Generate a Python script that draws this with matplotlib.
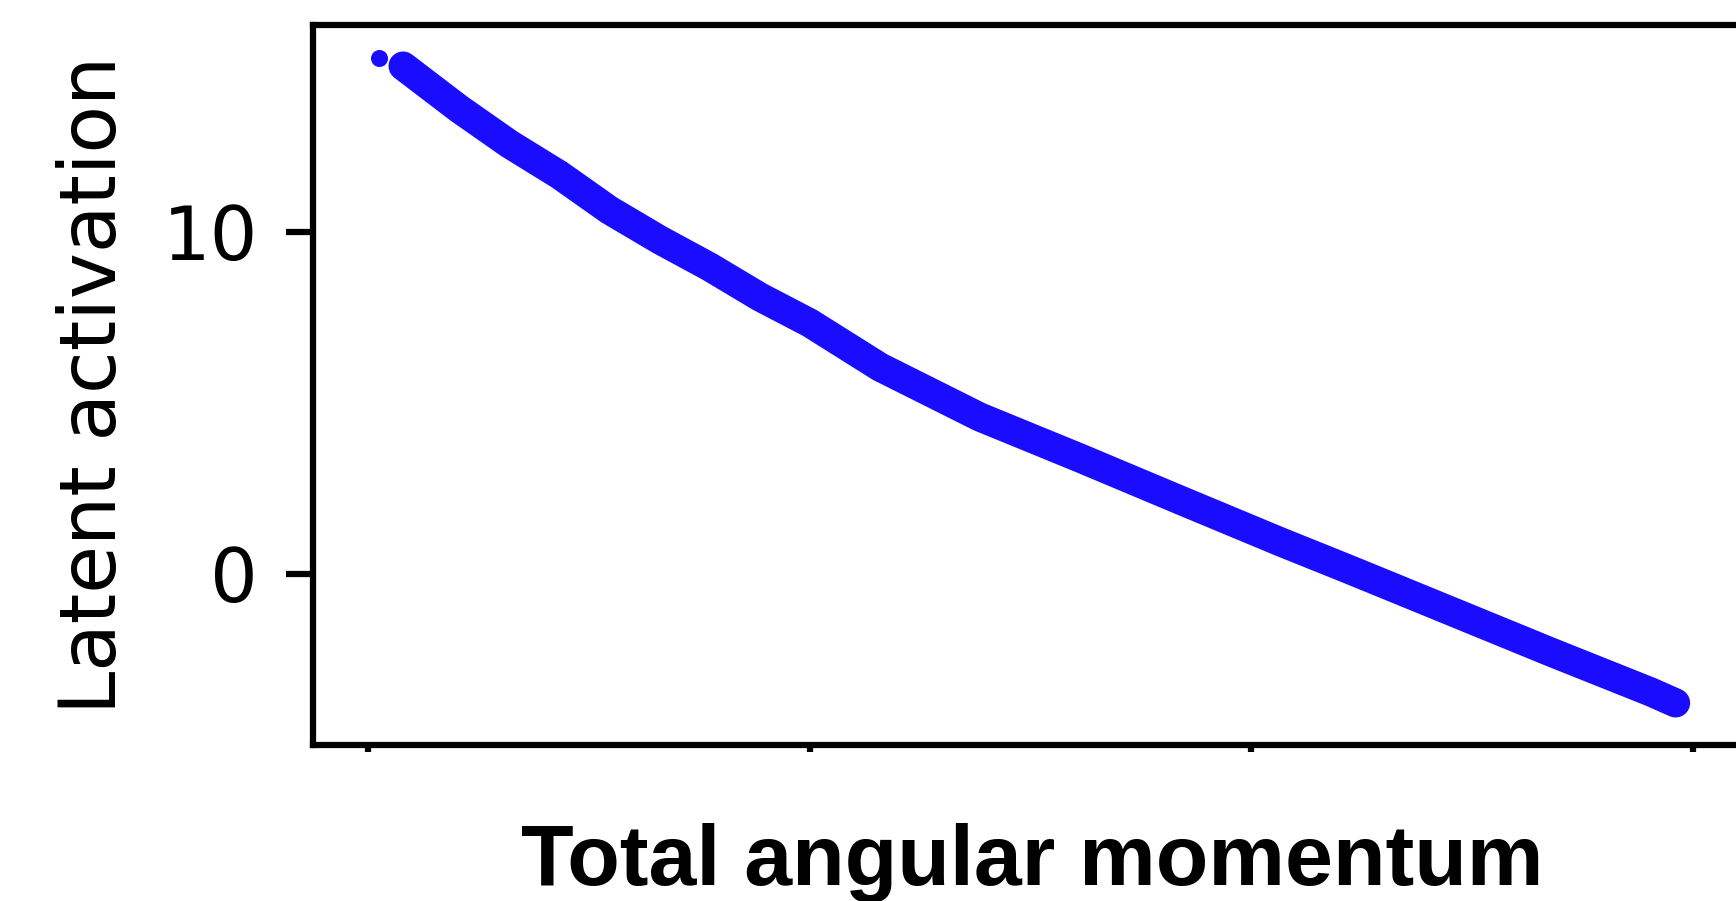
import matplotlib.pyplot as plt

# Latent activation along the total angular momentum axis (x in tick units)
momentum = [0.079, 0.206, 0.320, 0.433, 0.546, 0.660, 0.773, 0.887, 1.000,
            1.159, 1.385, 1.612, 1.839, 2.066, 2.224, 2.451, 2.678, 2.905,
            2.961]
activation = [14.85, 13.60, 12.57, 11.67, 10.64, 9.77, 8.98, 8.10, 7.34,
              6.05, 4.59, 3.39, 2.16, 0.94, 0.12, -1.08, -2.28, -3.45,
              -3.77]

# the lone sample at the top-left end
first_momentum = [0.025]
first_activation = [15.09]

x_ticks = [0, 1, 2, 3]
y_ticks = [0, 10]
y_tick_labels = ["0", "10"]

blue = "#1a0dff"

fig = plt.figure(figsize=(17.36, 9.01), dpi=100, facecolor="white")
ax = fig.add_axes([313 / 1736, 156 / 901, 1435 / 1736, 720 / 901])

ax.plot(momentum, activation, color=blue, lw=21, solid_capstyle="round",
        solid_joinstyle="round")
ax.scatter(first_momentum, first_activation, s=150, color=blue, linewidths=0)

ax.set_xlim(-0.125, 3.125)
ax.set_ylim(-5.0, 16.05)

ax.set_xticks(x_ticks)
ax.set_xticklabels([])
ax.set_yticks(y_ticks)
ax.set_yticklabels(y_tick_labels)

for side in ax.spines.values():
    side.set_linewidth(4.5)
ax.tick_params(axis="y", length=19.5, width=4.5, pad=20, labelsize=54)
ax.tick_params(axis="x", length=5, width=4.5)

ax.set_ylabel("Latent activation", fontsize=56, labelpad=22)

fig.text(1032 / 1736, 16 / 901, "Total angular momentum", ha="center",
         va="baseline", fontsize=62, fontweight="bold",
         family="Liberation Sans")

fig.savefig("out.png", dpi=100)
